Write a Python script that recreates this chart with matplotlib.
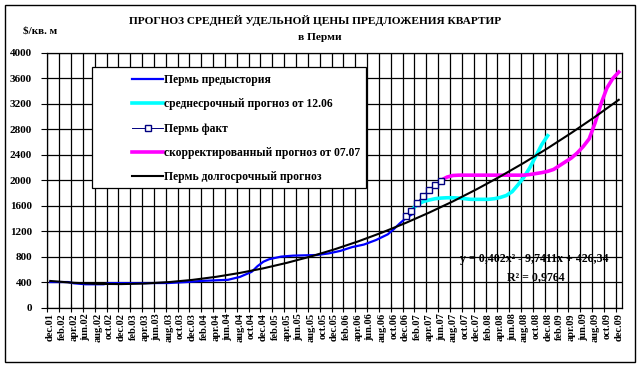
import matplotlib
matplotlib.use('Agg')
import matplotlib.pyplot as plt
from matplotlib.patches import Rectangle
from matplotlib.lines import Line2D

############################### Data ######################################
# month index: 0 = dec.01 ... 96 = dec.09
X_LABELS = ['dec.01', 'feb.02', 'apr.02', 'jun.02', 'aug.02', 'oct.02',
            'dec.02', 'feb.03', 'apr.03', 'jun.03', 'aug.03', 'oct.03',
            'dec.03', 'feb.04', 'apr.04', 'jun.04', 'aug.04', 'oct.04',
            'dec.04', 'feb.05', 'apr.05', 'jun.05', 'aug.05', 'oct.05',
            'dec.05', 'feb.06', 'apr.06', 'jun.06', 'aug.06', 'oct.06',
            'dec.06', 'feb.07', 'apr.07', 'jun.07', 'aug.07', 'oct.07',
            'dec.07', 'feb.08', 'apr.08', 'jun.08', 'aug.08', 'oct.08',
            'dec.08', 'feb.09', 'apr.09', 'jun.09', 'aug.09', 'oct.09',
            'dec.09']

history_m = [0, 3, 4, 6, 9, 10, 20, 23, 26, 30, 32, 34, 35, 36, 37, 39, 41, 43,
             45, 47, 49, 51, 53, 55, 57, 58, 59, 60, 61]
history_v = [400, 400, 380, 365, 365, 382, 385, 400, 420, 435, 480, 560, 650, 720,
             760, 800, 815, 820, 825, 850, 890, 950, 990, 1060, 1150, 1230, 1320,
             1400, 1460]

fact_m = [60, 61, 62, 63, 64, 65, 66]
fact_v = [1440, 1510, 1650, 1760, 1840, 1930, 1995]

mid_m = [61, 62, 63, 64, 65, 66, 67, 68, 69, 70, 71, 72, 73, 74, 75, 76, 77, 78,
         79, 80, 81, 82, 83, 84]
mid_v = [1530, 1620, 1665, 1690, 1710, 1720, 1725, 1725, 1720, 1710, 1700, 1700,
         1700, 1700, 1710, 1730, 1760, 1820, 1930, 2050, 2200, 2380, 2560, 2700]

corr_m = [66, 67, 68, 69, 72, 76, 80, 81, 82, 83, 84, 85, 86, 87, 88, 89, 90, 91,
          92, 93, 94, 95, 96]
corr_v = [2000, 2050, 2075, 2080, 2080, 2080, 2080, 2090, 2105, 2120, 2140, 2170,
          2230, 2290, 2350, 2430, 2530, 2650, 2900, 3200, 3450, 3600, 3700]

long_m = [0, 4, 8, 12, 16, 20, 24, 28, 32, 36, 40, 44, 48, 52, 56, 60, 64, 68,
          72, 76, 80, 84, 88, 92, 96]
long_v = [417, 388, 371, 368, 377, 399, 434, 482, 543, 616, 703, 802, 914, 1039,
          1177, 1328, 1492, 1668, 1858, 2060, 2275, 2503, 2744, 2997, 3264]

LABELS = ['Пермь предыстория', 'среднесрочный прогноз от 12.06', 'Пермь факт',
          'скорректированный прогноз от 07.07', 'Пермь долгосрочный прогноз']
TITLE = 'ПРОГНОЗ СРЕДНЕЙ УДЕЛЬНОЙ ЦЕНЫ ПРЕДЛОЖЕНИЯ КВАРТИР'
SUBTITLE = 'в Перми'
EQUATION = 'y = 0,402x² - 9,7411x + 426,34'
R2 = 'R² = 0,9764'

############################### Plot ######################################
plt.rcParams['font.family'] = ['Liberation Serif', 'DejaVu Serif']
plt.rcParams['font.weight'] = 'bold'

W, H = 642, 369
fig = plt.figure(figsize=(W / 100, H / 100), dpi=100)
ax = fig.add_axes([47.3 / W, 1 - 307.5 / H, (621.7 - 47.3) / W, (307.5 - 53) / H])

# outer chart frame
fig.patches.append(Rectangle((5 / W, 1 - 362 / H), 630 / W, 357 / H,
                             transform=fig.transFigure, fill=False,
                             edgecolor='black', lw=1.0))

ax.plot(history_m, history_v, color='#0000FF', lw=1.6, zorder=3)
ax.plot(mid_m, mid_v, color='#00FFFF', lw=2.6, zorder=3)
ax.plot(fact_m, fact_v, color='#000080', lw=0.7, marker='s', ms=5,
        mfc='white', mec='#000080', mew=1.0, zorder=4)
ax.plot(corr_m, corr_v, color='#FF00FF', lw=2.6, zorder=3)
ax.plot(long_m, long_v, color='black', lw=1.5, zorder=5)

ax.set_xlim(-0.5, 96.5)
ax.set_ylim(0, 4000)
ax.set_yticks(range(0, 4001, 400))
ax.set_xticks(range(0, 97, 2))
ax.set_xticklabels(X_LABELS, rotation=90, fontsize=7.5, fontweight='bold')
ax.set_xticks([x - 0.5 for x in range(0, 97, 2)], minor=True)
ax.tick_params(axis='x', which='major', length=0, pad=4)
ax.tick_params(axis='x', which='minor', length=6, direction='inout', width=0.8)
ax.tick_params(axis='y', length=4, direction='out', width=0.8, labelsize=8, pad=7)
for lab in ax.get_yticklabels():
    lab.set_fontweight('bold')
ax.grid(True, which='minor', axis='x', color='black', lw=0.9)
ax.grid(True, which='major', axis='y', color='black', lw=0.9)
for s in ax.spines.values():
    s.set_linewidth(0.9)

# legend with its own frame
ax.add_patch(Rectangle((0.078, 0.47), 0.477, 0.475, transform=ax.transAxes,
                       facecolor='white', edgecolor='black', lw=0.9, zorder=6))
handles = [Line2D([], [], color='#0000FF', lw=1.6),
           Line2D([], [], color='#00FFFF', lw=2.6),
           Line2D([], [], color='#000080', lw=0.7, marker='s', ms=5,
                  mfc='white', mec='#000080'),
           Line2D([], [], color='#FF00FF', lw=2.6),
           Line2D([], [], color='black', lw=1.5)]
leg = ax.legend(handles, LABELS, loc='upper left', bbox_to_anchor=(0.14, 0.935),
                frameon=False, fontsize=8.4, handlelength=2.6, handletextpad=0.1,
                labelspacing=1.05, borderaxespad=0)
leg.set_zorder(7)

ax.text(0.848, 0.19, EQUATION, transform=ax.transAxes, ha='center', va='center',
        fontsize=8.6, fontweight='bold')
ax.text(0.85, 0.12, R2, transform=ax.transAxes, ha='center', va='center',
        fontsize=8.6, fontweight='bold')

fig.text(315 / W, 1 - 20 / H, TITLE, ha='center', va='center', fontsize=8.2,
         fontweight='bold')
fig.text(320 / W, 1 - 38 / H, SUBTITLE, ha='center', va='center', fontsize=8.2,
         fontweight='bold')
fig.text(40 / W, 1 - 31 / H, '$/кв. м', ha='center', va='center', fontsize=8,
         fontweight='bold')

fig.savefig('out.png', dpi=100)
